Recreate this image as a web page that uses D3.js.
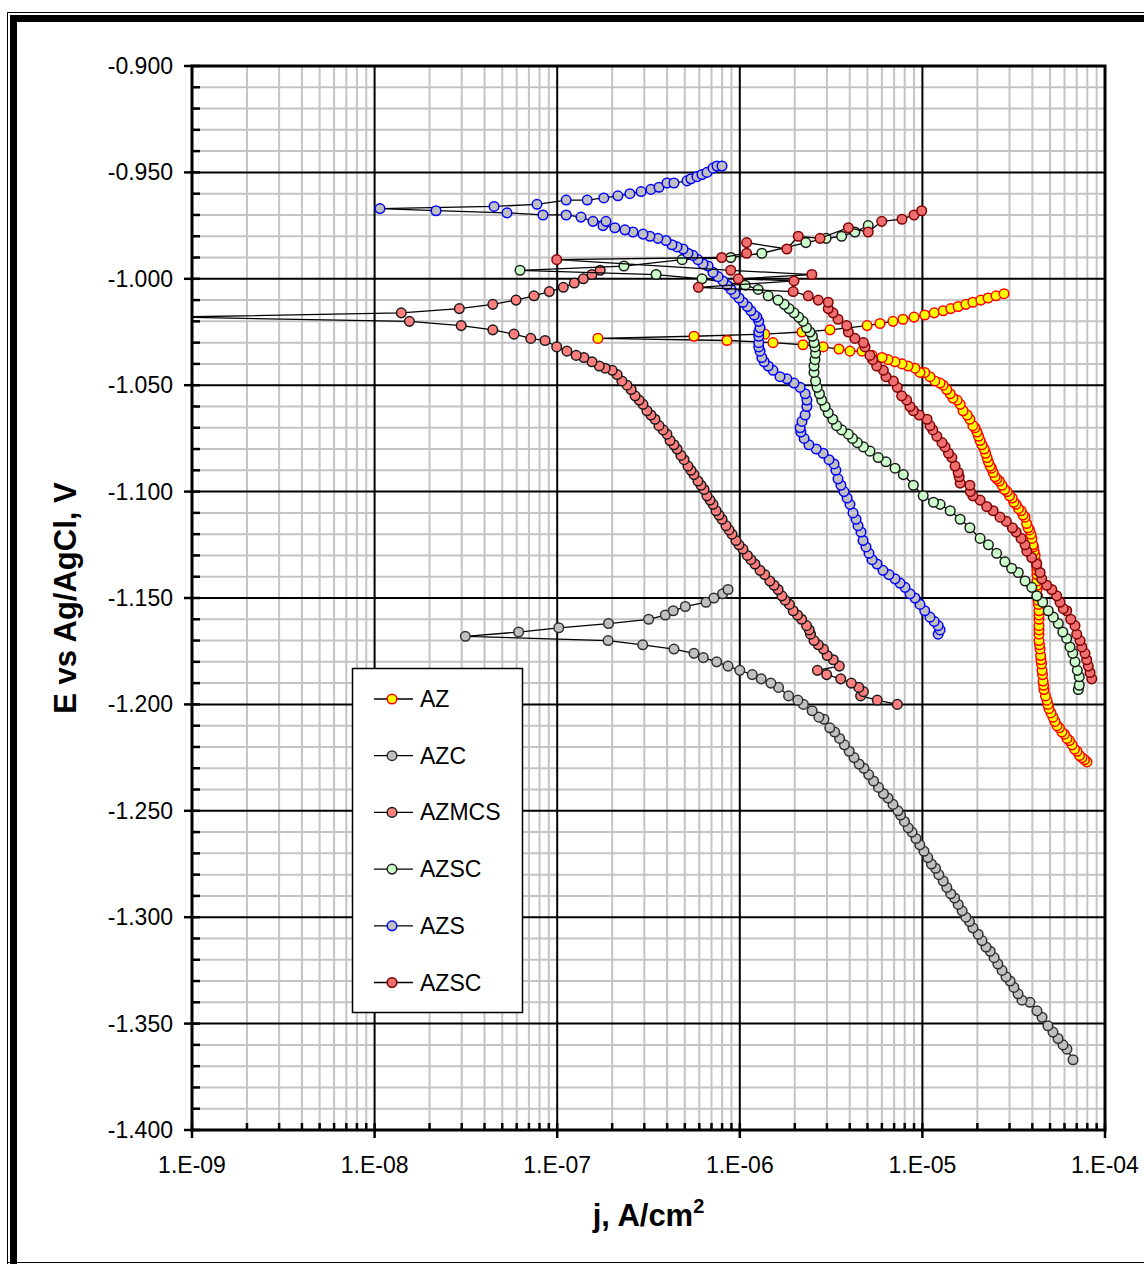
<!DOCTYPE html>
<html><head><meta charset="utf-8">
<script src="https://cdn.jsdelivr.net/npm/d3@7"></script>
<style>
body{margin:0;background:#fff}
svg{display:block}
text{font-family:"Liberation Sans",Arial,Helvetica,sans-serif;fill:#000}
</style>
</head><body>
<svg id="chart" width="1144" height="1264"></svg>
<script>
// Polarization curves: [j (A/cm2), E (V vs Ag/AgCl)], scan order cathodic -> anodic
const AZ = [[7.97e-5,-1.227],[7.72e-5,-1.226],[7.48e-5,-1.225],[7.25e-5,-1.224],[7.03e-5,-1.222],[6.81e-5,-1.221],[6.60e-5,-1.219],[6.39e-5,-1.217],[6.19e-5,-1.216],[6.00e-5,-1.214],[5.81e-5,-1.213],[5.63e-5,-1.211],[5.46e-5,-1.210],[5.32e-5,-1.208],[5.19e-5,-1.206],[5.06e-5,-1.204],[4.93e-5,-1.202],[4.87e-5,-1.200],[4.81e-5,-1.198],[4.72e-5,-1.196],[4.63e-5,-1.193],[4.61e-5,-1.191],[4.58e-5,-1.189],[4.55e-5,-1.186],[4.52e-5,-1.184],[4.49e-5,-1.181],[4.46e-5,-1.179],[4.44e-5,-1.177],[4.41e-5,-1.174],[4.38e-5,-1.172],[4.35e-5,-1.170],[4.35e-5,-1.167],[4.35e-5,-1.165],[4.35e-5,-1.163],[4.35e-5,-1.160],[4.35e-5,-1.158],[4.35e-5,-1.156],[4.32e-5,-1.153],[4.30e-5,-1.151],[4.27e-5,-1.149],[4.24e-5,-1.146],[4.24e-5,-1.144],[4.24e-5,-1.142],[4.24e-5,-1.139],[4.24e-5,-1.137],[4.22e-5,-1.135],[4.19e-5,-1.133],[4.14e-5,-1.130],[4.09e-5,-1.128],[4.06e-5,-1.126],[4.03e-5,-1.125],[3.98e-5,-1.122],[3.93e-5,-1.120],[3.86e-5,-1.118],[3.79e-5,-1.117],[3.72e-5,-1.115],[3.65e-5,-1.112],[3.56e-5,-1.111],[3.47e-5,-1.109],[3.36e-5,-1.108],[3.26e-5,-1.106],[3.17e-5,-1.105],[3.10e-5,-1.103],[3.00e-5,-1.102],[2.91e-5,-1.100],[2.82e-5,-1.099],[2.73e-5,-1.097],[2.64e-5,-1.095],[2.56e-5,-1.094],[2.50e-5,-1.093],[2.44e-5,-1.091],[2.39e-5,-1.089],[2.35e-5,-1.088],[2.30e-5,-1.086],[2.26e-5,-1.084],[2.22e-5,-1.082],[2.18e-5,-1.080],[2.12e-5,-1.078],[2.07e-5,-1.076],[2.03e-5,-1.074],[1.99e-5,-1.072],[1.94e-5,-1.070],[1.89e-5,-1.069],[1.82e-5,-1.066],[1.76e-5,-1.064],[1.67e-5,-1.062],[1.61e-5,-1.059],[1.55e-5,-1.057],[1.47e-5,-1.056],[1.42e-5,-1.054],[1.36e-5,-1.052],[1.30e-5,-1.050],[1.25e-5,-1.049],[1.17e-5,-1.048],[1.10e-5,-1.046],[1.03e-5,-1.044],[9.70e-6,-1.044],[9.11e-6,-1.042],[8.34e-6,-1.041],[7.73e-6,-1.040],[7.08e-6,-1.039],[6.48e-6,-1.038],[6.01e-6,-1.037],[5.30e-6,-1.036],[4.67e-6,-1.034],[4.01e-6,-1.034],[3.49e-6,-1.033],[2.86e-6,-1.032],[2.22e-6,-1.031],[1.52e-6,-1.030],[8.51e-7,-1.029],[1.67e-7,-1.028],[5.61e-7,-1.027],[1.37e-6,-1.026],[2.19e-6,-1.025],[3.12e-6,-1.024],[4.98e-6,-1.022],[5.86e-6,-1.021],[6.90e-6,-1.020],[7.83e-6,-1.019],[9.00e-6,-1.018],[1.03e-5,-1.017],[1.16e-5,-1.016],[1.30e-5,-1.015],[1.43e-5,-1.014],[1.57e-5,-1.013],[1.73e-5,-1.012],[1.89e-5,-1.011],[2.09e-5,-1.010],[2.29e-5,-1.009],[2.53e-5,-1.008],[2.80e-5,-1.007]];

const AZC = [[6.68e-5,-1.367],[6.19e-5,-1.362],[5.89e-5,-1.360],[5.53e-5,-1.357],[5.19e-5,-1.354],[4.87e-5,-1.351],[4.52e-5,-1.347],[4.24e-5,-1.344],[3.88e-5,-1.340],[3.51e-5,-1.339],[3.34e-5,-1.336],[3.17e-5,-1.333],[3.02e-5,-1.330],[2.87e-5,-1.328],[2.73e-5,-1.325],[2.59e-5,-1.322],[2.47e-5,-1.319],[2.35e-5,-1.316],[2.23e-5,-1.314],[2.12e-5,-1.311],[2.02e-5,-1.308],[1.89e-5,-1.305],[1.81e-5,-1.302],[1.73e-5,-1.300],[1.65e-5,-1.297],[1.57e-5,-1.294],[1.50e-5,-1.291],[1.43e-5,-1.289],[1.36e-5,-1.286],[1.30e-5,-1.283],[1.23e-5,-1.280],[1.18e-5,-1.277],[1.12e-5,-1.275],[1.07e-5,-1.272],[1.02e-5,-1.269],[9.68e-6,-1.266],[9.22e-6,-1.263],[8.77e-6,-1.260],[8.36e-6,-1.258],[7.97e-6,-1.255],[7.59e-6,-1.252],[7.35e-6,-1.250],[6.90e-6,-1.247],[6.48e-6,-1.244],[6.12e-6,-1.242],[5.75e-6,-1.239],[5.40e-6,-1.236],[5.08e-6,-1.233],[4.78e-6,-1.230],[4.50e-6,-1.228],[4.22e-6,-1.225],[3.97e-6,-1.222],[3.74e-6,-1.219],[3.52e-6,-1.216],[3.31e-6,-1.213],[3.11e-6,-1.211],[2.89e-6,-1.207],[2.71e-6,-1.206],[2.49e-6,-1.203],[2.23e-6,-1.200],[2.08e-6,-1.198],[1.85e-6,-1.196],[1.63e-6,-1.192],[1.48e-6,-1.190],[1.31e-6,-1.188],[1.17e-6,-1.186],[1.00e-6,-1.184],[8.62e-7,-1.182],[7.47e-7,-1.180],[6.31e-7,-1.178],[5.61e-7,-1.176],[4.36e-7,-1.174],[2.94e-7,-1.172],[1.90e-7,-1.170],[3.14e-8,-1.168],[6.15e-8,-1.166],[1.02e-7,-1.164],[1.91e-7,-1.162],[3.17e-7,-1.160],[3.91e-7,-1.158],[4.32e-7,-1.156],[5.03e-7,-1.154],[6.53e-7,-1.152],[7.22e-7,-1.150],[8.06e-7,-1.148],[8.62e-7,-1.146]];

const AZMCS = [[7.29e-6,-1.200],[5.66e-6,-1.198],[4.59e-6,-1.196],[4.75e-6,-1.194],[4.48e-6,-1.192],[4.08e-6,-1.190],[3.57e-6,-1.188],[2.99e-6,-1.186],[2.66e-6,-1.184],[3.51e-6,-1.182],[3.25e-6,-1.179],[3.01e-6,-1.177],[2.87e-6,-1.174],[2.69e-6,-1.172],[2.55e-6,-1.170],[2.44e-6,-1.167],[2.40e-6,-1.165],[2.32e-6,-1.163],[2.18e-6,-1.160],[2.07e-6,-1.158],[1.96e-6,-1.156],[1.87e-6,-1.153],[1.77e-6,-1.151],[1.70e-6,-1.149],[1.62e-6,-1.146],[1.54e-6,-1.144],[1.46e-6,-1.142],[1.37e-6,-1.139],[1.29e-6,-1.137],[1.21e-6,-1.134],[1.15e-6,-1.132],[1.10e-6,-1.130],[1.04e-6,-1.127],[9.90e-7,-1.125],[9.53e-7,-1.123],[9.06e-7,-1.120],[8.73e-7,-1.118],[8.40e-7,-1.116],[7.99e-7,-1.113],[7.69e-7,-1.111],[7.41e-7,-1.109],[7.13e-7,-1.106],[6.87e-7,-1.104],[6.61e-7,-1.102],[6.37e-7,-1.099],[6.13e-7,-1.097],[5.90e-7,-1.095],[5.61e-7,-1.092],[5.40e-7,-1.090],[5.20e-7,-1.088],[4.95e-7,-1.085],[4.76e-7,-1.083],[4.53e-7,-1.080],[4.36e-7,-1.078],[4.15e-7,-1.076],[3.99e-7,-1.073],[3.80e-7,-1.071],[3.61e-7,-1.069],[3.43e-7,-1.066],[3.26e-7,-1.064],[3.10e-7,-1.062],[2.95e-7,-1.059],[2.81e-7,-1.057],[2.67e-7,-1.055],[2.54e-7,-1.052],[2.41e-7,-1.050],[2.26e-7,-1.048],[2.13e-7,-1.045],[2.00e-7,-1.043],[1.83e-7,-1.042],[1.70e-7,-1.041],[1.55e-7,-1.039],[1.40e-7,-1.037],[1.27e-7,-1.036],[1.13e-7,-1.034],[9.94e-8,-1.032],[8.58e-8,-1.029],[7.16e-8,-1.028],[5.80e-8,-1.026],[4.44e-8,-1.024],[2.98e-8,-1.022],[1.55e-8,-1.020],[8.0e-10,-1.018],[1.40e-8,-1.016],[2.91e-8,-1.014],[4.44e-8,-1.012],[5.95e-8,-1.010],[7.46e-8,-1.008],[9.05e-8,-1.006],[1.08e-7,-1.004],[1.24e-7,-1.002],[1.39e-7,-1.000],[1.55e-7,-0.998],[1.72e-7,-0.996]];

const AZSC = [[7.14e-5,-1.193],[7.23e-5,-1.191],[7.23e-5,-1.187],[7.05e-5,-1.184],[6.85e-5,-1.180],[6.66e-5,-1.176],[6.43e-5,-1.173],[6.17e-5,-1.169],[5.87e-5,-1.166],[5.55e-5,-1.162],[5.21e-5,-1.159],[4.89e-5,-1.156],[4.56e-5,-1.152],[4.23e-5,-1.149],[3.97e-5,-1.145],[3.65e-5,-1.142],[3.35e-5,-1.138],[3.08e-5,-1.136],[2.83e-5,-1.133],[2.55e-5,-1.129],[2.30e-5,-1.125],[2.07e-5,-1.122],[1.82e-5,-1.117],[1.61e-5,-1.113],[1.42e-5,-1.109],[1.25e-5,-1.106],[1.15e-5,-1.105],[1.01e-5,-1.102],[8.92e-6,-1.097],[7.86e-6,-1.092],[7.08e-6,-1.089],[6.32e-6,-1.086],[5.73e-6,-1.084],[5.16e-6,-1.081],[4.75e-6,-1.079],[4.40e-6,-1.077],[4.14e-6,-1.075],[3.93e-6,-1.073],[3.61e-6,-1.071],[3.39e-6,-1.069],[3.23e-6,-1.066],[3.05e-6,-1.063],[2.93e-6,-1.060],[2.81e-6,-1.057],[2.73e-6,-1.054],[2.65e-6,-1.051],[2.60e-6,-1.048],[2.55e-6,-1.044],[2.55e-6,-1.041],[2.58e-6,-1.038],[2.60e-6,-1.035],[2.58e-6,-1.032],[2.55e-6,-1.030],[2.50e-6,-1.027],[2.42e-6,-1.025],[2.32e-6,-1.023],[2.22e-6,-1.020],[2.10e-6,-1.018],[1.98e-6,-1.016],[1.86e-6,-1.014],[1.75e-6,-1.012],[1.62e-6,-1.010],[1.43e-6,-1.008],[1.26e-6,-1.005],[1.07e-6,-1.003],[6.21e-7,-1.000],[3.48e-7,-0.998],[6.26e-8,-0.996],[2.32e-7,-0.994],[4.83e-7,-0.991],[8.92e-7,-0.990],[1.32e-6,-0.988],[2.30e-6,-0.983],[2.97e-6,-0.981],[3.61e-6,-0.980],[4.27e-6,-0.978],[5.05e-6,-0.975]];

const AZS = [[1.22e-5,-1.167],[1.25e-5,-1.165],[1.22e-5,-1.163],[1.16e-5,-1.161],[1.10e-5,-1.159],[1.03e-5,-1.156],[9.70e-6,-1.153],[9.11e-6,-1.150],[8.55e-6,-1.148],[8.03e-6,-1.145],[7.54e-6,-1.143],[7.08e-6,-1.141],[6.56e-6,-1.139],[6.08e-6,-1.137],[5.64e-6,-1.134],[5.30e-6,-1.132],[5.10e-6,-1.129],[4.91e-6,-1.126],[4.73e-6,-1.123],[4.61e-6,-1.119],[4.44e-6,-1.116],[4.33e-6,-1.113],[4.17e-6,-1.110],[4.01e-6,-1.106],[3.87e-6,-1.103],[3.72e-6,-1.100],[3.58e-6,-1.097],[3.45e-6,-1.094],[3.36e-6,-1.090],[3.28e-6,-1.087],[3.08e-6,-1.085],[2.86e-6,-1.082],[2.62e-6,-1.080],[2.39e-6,-1.078],[2.25e-6,-1.075],[2.16e-6,-1.072],[2.14e-6,-1.070],[2.19e-6,-1.067],[2.28e-6,-1.064],[2.33e-6,-1.060],[2.33e-6,-1.057],[2.28e-6,-1.054],[2.14e-6,-1.051],[1.98e-6,-1.049],[1.81e-6,-1.047],[1.66e-6,-1.046],[1.52e-6,-1.043],[1.43e-6,-1.041],[1.36e-6,-1.039],[1.32e-6,-1.037],[1.29e-6,-1.034],[1.27e-6,-1.032],[1.27e-6,-1.030],[1.27e-6,-1.027],[1.27e-6,-1.025],[1.29e-6,-1.023],[1.27e-6,-1.020],[1.24e-6,-1.018],[1.20e-6,-1.017],[1.15e-6,-1.015],[1.10e-6,-1.013],[1.04e-6,-1.011],[9.90e-7,-1.009],[9.41e-7,-1.007],[8.95e-7,-1.005],[8.51e-7,-1.003],[8.09e-7,-1.001],[7.60e-7,-0.999],[7.13e-7,-0.997],[6.70e-7,-0.994],[6.29e-7,-0.993],[5.90e-7,-0.991],[5.54e-7,-0.989],[5.20e-7,-0.988],[4.89e-7,-0.986],[4.53e-7,-0.985],[4.25e-7,-0.984],[3.94e-7,-0.982],[3.56e-7,-0.981],[3.22e-7,-0.980],[2.95e-7,-0.979],[2.60e-7,-0.978],[2.35e-7,-0.977],[2.07e-7,-0.976],[1.78e-7,-0.975],[1.85e-7,-0.973],[1.57e-7,-0.973],[1.35e-7,-0.971],[1.12e-7,-0.970],[8.36e-8,-0.970],[5.31e-8,-0.969],[2.17e-8,-0.968],[1.07e-8,-0.967],[4.51e-8,-0.966],[7.75e-8,-0.965],[1.12e-7,-0.963],[1.46e-7,-0.963],[1.80e-7,-0.962],[2.15e-7,-0.961],[2.50e-7,-0.960],[2.88e-7,-0.959],[3.26e-7,-0.958],[3.61e-7,-0.957],[3.99e-7,-0.955],[4.36e-7,-0.955],[5.14e-7,-0.954],[5.40e-7,-0.953],[5.83e-7,-0.952],[6.21e-7,-0.951],[6.61e-7,-0.950],[7.13e-7,-0.948],[7.50e-7,-0.947],[7.99e-7,-0.947]];

const AZSC2 = [[8.46e-5,-1.188],[8.28e-5,-1.185],[8.10e-5,-1.182],[7.94e-5,-1.179],[7.77e-5,-1.176],[7.46e-5,-1.173],[7.30e-5,-1.170],[7.00e-5,-1.167],[6.85e-5,-1.163],[6.49e-5,-1.160],[6.17e-5,-1.156],[5.91e-5,-1.155],[5.67e-5,-1.152],[5.44e-5,-1.149],[5.11e-5,-1.146],[4.79e-5,-1.144],[4.50e-5,-1.141],[4.41e-5,-1.138],[4.23e-5,-1.134],[3.97e-5,-1.131],[3.73e-5,-1.128],[3.65e-5,-1.125],[3.47e-5,-1.122],[3.26e-5,-1.119],[3.11e-5,-1.117],[2.88e-5,-1.114],[2.66e-5,-1.112],[2.44e-5,-1.109],[2.25e-5,-1.107],[2.07e-5,-1.104],[1.89e-5,-1.102],[1.83e-5,-1.100],[1.82e-5,-1.097],[1.61e-5,-1.096],[1.59e-5,-1.093],[1.57e-5,-1.091],[1.51e-5,-1.088],[1.45e-5,-1.084],[1.39e-5,-1.082],[1.33e-5,-1.079],[1.28e-5,-1.077],[1.20e-5,-1.074],[1.14e-5,-1.071],[1.10e-5,-1.069],[1.06e-5,-1.066],[9.62e-6,-1.064],[8.92e-6,-1.062],[8.55e-6,-1.060],[8.20e-6,-1.057],[7.70e-6,-1.055],[7.29e-6,-1.051],[6.93e-6,-1.048],[6.32e-6,-1.046],[6.11e-6,-1.043],[5.62e-6,-1.041],[5.34e-6,-1.038],[5.16e-6,-1.036],[4.85e-6,-1.032],[4.75e-6,-1.030],[4.27e-6,-1.028],[3.93e-6,-1.025],[3.85e-6,-1.022],[3.45e-6,-1.019],[3.24e-6,-1.016],[3.05e-6,-1.014],[3.05e-6,-1.011],[2.69e-6,-1.010],[2.37e-6,-1.008],[1.96e-6,-1.006],[5.93e-7,-1.004],[1.98e-6,-1.001],[9.81e-7,-1.000],[2.48e-6,-0.998],[8.92e-7,-0.996],[9.94e-8,-0.991],[7.96e-7,-0.990],[1.09e-6,-0.988],[1.09e-6,-0.983],[1.81e-6,-0.986],[2.09e-6,-0.980],[2.75e-6,-0.981],[3.93e-6,-0.976],[5.05e-6,-0.978],[5.99e-6,-0.973],[7.73e-6,-0.972],[9.00e-6,-0.970],[9.91e-6,-0.968]];

const seriesNames = ["AZ","AZC","AZMCS","AZSC","AZS","AZSC"];
const seriesData = [AZ, AZC, AZMCS, AZSC, AZS, AZSC2];
const markerFill = ["#ffff00","#c0c0c0","#ff7f7f","#ccffcc","#c0c0c0","#ee6f6f"];
const markerStroke = ["#ff0000","#303030","#1a1a1a","#1a1a1a","#0000ff","#800000"];

const xDomain = [1e-9, 1e-4];
const xTickValues = [1e-9, 1e-8, 1e-7, 1e-6, 1e-5, 1e-4];
const xTickLabels = ["1.E-09","1.E-08","1.E-07","1.E-06","1.E-05","1.E-04"];
const yDomain = [-1.4, -0.9];
const yTickValues = [-0.90,-0.95,-1.00,-1.05,-1.10,-1.15,-1.20,-1.25,-1.30,-1.35,-1.40];

const W = 1144, H = 1264;
const P = {l:192, r:1105, t:66, b:1130};
const x = d3.scaleLog().domain(xDomain).range([P.l, P.r]);
const y = d3.scaleLinear().domain(yDomain).range([P.b, P.t]);
const svg = d3.select("#chart");
const fmtY = d3.formatLocale({decimal:".", thousands:",", grouping:[3], currency:["",""], minus:"-"}).format(".3f");

svg.append("rect").attr("width",W).attr("height",H).attr("fill","#fff");

// page border (thin outer rule + heavy inner rule)
svg.append("path").attr("d",`M7.5,${H} V12.5 H${W}`).attr("fill","none").attr("stroke","#000").attr("stroke-width",1);
svg.append("path").attr("d",`M13.5,${H} V18.5 H${W}`).attr("fill","none").attr("stroke","#000").attr("stroke-width",7);
svg.append("line").attr("x1",7).attr("x2",W).attr("y1",1262.5).attr("y2",1262.5).attr("stroke","#000").attr("stroke-width",1);

// grid
const grid = svg.append("g");
const minorX = [], majorX = [];
for (let e = -9; e < -4; e++) {
  for (let k = 2; k <= 9; k++) minorX.push(k * Math.pow(10, e));
  if (e > -9) majorX.push(Math.pow(10, e));
}
const minorY = [], majorY = [];
for (let i = 1; i < 50; i++) {
  const v = -0.9 - i * 0.01;
  if (i % 5 === 0) majorY.push(v); else minorY.push(v);
}
grid.selectAll(".gxm").data(minorX).join("line")
  .attr("x1",d=>x(d)).attr("x2",d=>x(d)).attr("y1",P.t).attr("y2",P.b)
  .attr("stroke","#c4c4c4").attr("stroke-width",2);
grid.selectAll(".gym").data(minorY).join("line")
  .attr("x1",P.l).attr("x2",P.r).attr("y1",d=>y(d)).attr("y2",d=>y(d))
  .attr("stroke","#c4c4c4").attr("stroke-width",2);
grid.selectAll(".gxM").data(majorX).join("line")
  .attr("x1",d=>x(d)).attr("x2",d=>x(d)).attr("y1",P.t).attr("y2",P.b)
  .attr("stroke","#000").attr("stroke-width",2);
grid.selectAll(".gyM").data(majorY).join("line")
  .attr("x1",P.l).attr("x2",P.r).attr("y1",d=>y(d)).attr("y2",d=>y(d))
  .attr("stroke","#000").attr("stroke-width",2);

// data
svg.append("clipPath").attr("id","plotclip").append("rect")
  .attr("x",P.l).attr("y",P.t).attr("width",P.r-P.l).attr("height",P.b-P.t);
const plot = svg.append("g").attr("clip-path","url(#plotclip)");
const line = d3.line().x(d=>x(d[0])).y(d=>y(d[1]));
seriesData.forEach((data, i) => {
  const g = plot.append("g");
  g.append("path").datum(data).attr("d",line)
    .attr("fill","none").attr("stroke","#000").attr("stroke-width",1.3);
  g.selectAll("circle").data(data).join("circle")
    .attr("cx",d=>x(d[0])).attr("cy",d=>y(d[1])).attr("r",4.8)
    .attr("fill",markerFill[i]).attr("stroke",markerStroke[i]).attr("stroke-width",1.5);
});

// plot frame
svg.append("rect").attr("x",P.l).attr("y",P.t).attr("width",P.r-P.l).attr("height",P.b-P.t)
  .attr("fill","none").attr("stroke","#000").attr("stroke-width",3);

// ticks
const ticks = svg.append("g").attr("stroke","#000").attr("stroke-width",2.5);
ticks.selectAll(".tyM").data(yTickValues).join("line")
  .attr("x1",P.l-8).attr("x2",P.l+8).attr("y1",d=>y(d)).attr("y2",d=>y(d));
ticks.selectAll(".tym").data(minorY).join("line")
  .attr("x1",P.l).attr("x2",P.l+8).attr("y1",d=>y(d)).attr("y2",d=>y(d));
ticks.selectAll(".txM").data(xTickValues).join("line")
  .attr("x1",d=>x(d)).attr("x2",d=>x(d)).attr("y1",P.b-7).attr("y2",P.b+8);
ticks.selectAll(".txm").data(minorX).join("line")
  .attr("x1",d=>x(d)).attr("x2",d=>x(d)).attr("y1",P.b-7).attr("y2",P.b);

// tick labels
svg.append("g").selectAll("text").data(yTickValues).join("text")
  .attr("x",P.l-19).attr("y",d=>y(d)).attr("dy","0.35em").attr("text-anchor","end")
  .attr("font-size",23).text(d=>fmtY(d));
svg.append("g").selectAll("text").data(xTickValues).join("text")
  .attr("x",d=>x(d)).attr("y",1173).attr("text-anchor","middle")
  .attr("font-size",23).text((d,i)=>xTickLabels[i]);

// axis titles
const xt = svg.append("text").attr("x",(P.l+P.r)/2).attr("y",1226).attr("text-anchor","middle")
  .attr("font-size",31).attr("font-weight","bold");
xt.append("tspan").text("j, A/cm");
xt.append("tspan").attr("font-size",20).attr("dy",-13).text("2");
svg.append("text").attr("transform",`translate(76,${(P.t+P.b)/2}) rotate(-90)`)
  .attr("text-anchor","middle").attr("font-size",31).attr("font-weight","bold")
  .text("E vs Ag/AgCl, V");

// legend
const lg = svg.append("g");
lg.append("rect").attr("x",352.5).attr("y",668.5).attr("width",170).attr("height",344)
  .attr("fill","#fff").attr("stroke","#000").attr("stroke-width",1.5);
seriesNames.forEach((name, i) => {
  const cy = 699 + i * 56.7;
  lg.append("line").attr("x1",374).attr("x2",413).attr("y1",cy).attr("y2",cy)
    .attr("stroke","#000").attr("stroke-width",1.3);
  lg.append("circle").attr("cx",392).attr("cy",cy).attr("r",4.8)
    .attr("fill",markerFill[i]).attr("stroke",markerStroke[i]).attr("stroke-width",1.5);
  lg.append("text").attr("x",420).attr("y",cy).attr("dy","0.35em").attr("font-size",23).text(name);
});
</script>
</body></html>
